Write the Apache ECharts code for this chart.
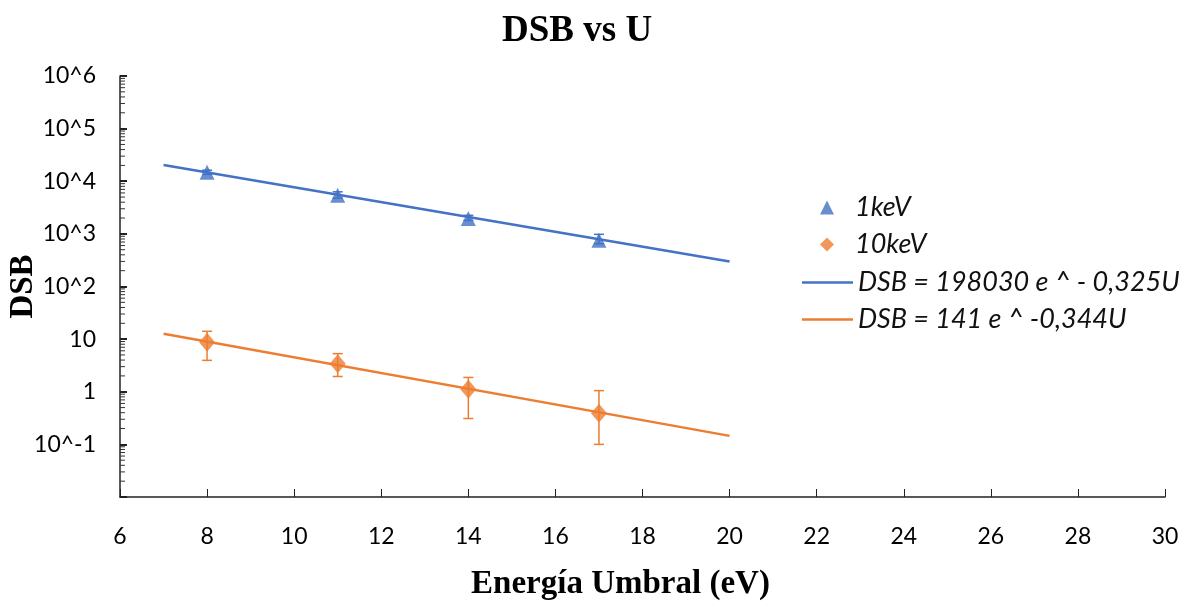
<!DOCTYPE html>
<html>
<head>
<meta charset="utf-8">
<script src="https://cdn.jsdelivr.net/npm/echarts@6/dist/echarts.min.js"></script>
<style>
html,body{margin:0;padding:0;background:#fff;}
#chart{width:1187px;height:607px;}
</style>
</head>
<body>
<div id="chart"></div>
<script>
// ---- data ----
const energy = [8, 11, 14, 17];
const dsb1keV = [14800, 5400, 1970, 760];
const err1keVLow = [13500, 4800, 1800, 650];
const err1keVHigh = [16200, 6300, 2250, 980];
const dsb10keV = [8.7, 3.4, 1.12, 0.39];
const err10keVLow = [3.95, 1.95, 0.31, 0.1];
const err10keVHigh = [14.1, 5.3, 1.87, 1.05];
const fit1X = [7, 20];
const fit1Y = [20350, 298];
const fit10X = [7, 20];
const fit10Y = [12.7, 0.145];
const yTickLabels = {'1000000':'10^6','100000':'10^5','10000':'10^4','1000':'10^3','100':'10^2','10':'10','1':'1','0.1':'10^-1','0.01':''};

const BLUE = '#4472C4', ORANGE = '#ED7D31';
const NAME1 = '1keV', NAME10 = '10keV';
const FIT1 = 'DSB = 198030 e ^ - 0,325U', FIT10 = 'DSB = 141 e ^ -0,344U';

function zip(a, b) { return a.map((v, i) => [v, b[i]]); }
function errData(x, lo, hi) { return x.map((v, i) => [v, lo[i], hi[i]]); }

function errRender(color) {
  return function (params, api) {
    const x = api.value(0);
    const p1 = api.coord([x, api.value(1)]);
    const p2 = api.coord([x, api.value(2)]);
    const w = 5;
    const st = { stroke: color, lineWidth: 1.5 };
    return {
      type: 'group',
      children: [
        { type: 'line', shape: { x1: p1[0], y1: p1[1], x2: p2[0], y2: p2[1] }, style: st },
        { type: 'line', shape: { x1: p1[0] - w, y1: p1[1], x2: p1[0] + w, y2: p1[1] }, style: st },
        { type: 'line', shape: { x1: p2[0] - w, y1: p2[1], x2: p2[0] + w, y2: p2[1] }, style: st }
      ]
    };
  };
}

// minor tick positions for the log axis (axis decoration only)
const minorVals = [];
for (let k = -2; k < 6; k++) for (let m = 2; m <= 9; m++) minorVals.push([6, m * Math.pow(10, k)]);

const legendText = { fontFamily: 'Lato', fontStyle: 'italic', fontSize: 27, color: '#111' };

const chart = echarts.init(document.getElementById('chart'));
chart.setOption({
  animation: false,
  backgroundColor: '#fff',
  title: {
    text: 'DSB vs U',
    left: 497, top: 8,
    textStyle: { fontFamily: 'Liberation Serif', fontWeight: 'bold', fontSize: 37, color: '#000' }
  },
  grid: { left: 120, right: 22, top: 76, bottom: 110, containLabel: false, outerBoundsMode: 'none' },
  legend: [
    {
      orient: 'vertical', left: 815, top: 189,
      itemWidth: 14, itemHeight: 14, itemGap: 10,
      textStyle: Object.assign({ padding: [0, 0, 0, 16] }, legendText),
      data: [{ name: NAME1, icon: 'triangle' }, { name: NAME10, icon: 'diamond' }]
    },
    {
      orient: 'vertical', left: 797, top: 264,
      itemWidth: 51, itemHeight: 2.5, itemGap: 10,
      textStyle: Object.assign({ padding: [0, 0, 0, 0] }, legendText),
      data: [{ name: FIT1, icon: 'rect' }, { name: FIT10, icon: 'rect' }]
    }
  ],
  xAxis: {
    type: 'value', min: 6, max: 30, interval: 2,
    name: 'Energía Umbral (eV)', nameLocation: 'middle', nameGap: 71, nameMoveOverlap: false,
    nameTextStyle: { fontFamily: 'Liberation Serif', fontWeight: 'bold', fontSize: 33, color: '#000', padding: [0, 44, 0, 0] },
    axisLine: { lineStyle: { color: '#222', width: 1.5 } },
    axisTick: { inside: true, length: 8, lineStyle: { color: '#222' } },
    axisLabel: { fontFamily: 'Lato', fontSize: 23, color: '#000', margin: 28 },
    splitLine: { show: false }
  },
  yAxis: {
    type: 'log', logBase: 10, min: 0.01, max: 1000000, splitNumber: 8,
    name: 'DSB', nameLocation: 'middle', nameGap: 80, nameMoveOverlap: false,
    nameTextStyle: { fontFamily: 'Liberation Serif', fontWeight: 'bold', fontSize: 33, color: '#000' },
    axisLine: { show: true, lineStyle: { color: '#222', width: 1.5 } },
    axisTick: { show: true, inside: true, length: 7, lineStyle: { color: '#222', width: 2 } },
    axisLabel: {
      fontFamily: 'Lato', fontSize: 23, color: '#000', margin: 24,
      formatter: function (v) {
        const key = String(Number(v.toPrecision(6)));
        return key in yTickLabels ? yTickLabels[key] : '';
      }
    },
    splitLine: { show: false }
  },
  series: [
    {
      name: 'minorTicks', type: 'custom', silent: true, clip: false,
      data: minorVals,
      renderItem: function (params, api) {
        const p = api.coord([api.value(0), api.value(1)]);
        return { type: 'line', shape: { x1: p[0], y1: p[1], x2: p[0] + 5, y2: p[1] }, style: { stroke: '#333', lineWidth: 1 } };
      },
      z: 1
    },
    {
      name: FIT1, type: 'line', data: zip(fit1X, fit1Y),
      showSymbol: false, symbol: 'none', lineStyle: { color: BLUE, width: 2.5 }, itemStyle: { color: BLUE }, z: 2
    },
    {
      name: FIT10, type: 'line', data: zip(fit10X, fit10Y),
      showSymbol: false, symbol: 'none', lineStyle: { color: ORANGE, width: 2.5 }, itemStyle: { color: ORANGE }, z: 2
    },
    {
      name: 'err1', type: 'custom', data: errData(energy, err1keVLow, err1keVHigh),
      renderItem: errRender(BLUE), z: 3, silent: true
    },
    {
      name: 'err10', type: 'custom', data: errData(energy, err10keVLow, err10keVHigh),
      renderItem: errRender(ORANGE), z: 3, silent: true
    },
    {
      name: NAME1, type: 'scatter', data: zip(energy, dsb1keV),
      symbol: 'triangle', symbolSize: 15, itemStyle: { color: BLUE }, z: 4
    },
    {
      name: NAME10, type: 'scatter', data: zip(energy, dsb10keV),
      symbol: 'diamond', symbolSize: [16, 19], itemStyle: { color: ORANGE }, z: 4
    }
  ]
});
</script>
</body>
</html>
